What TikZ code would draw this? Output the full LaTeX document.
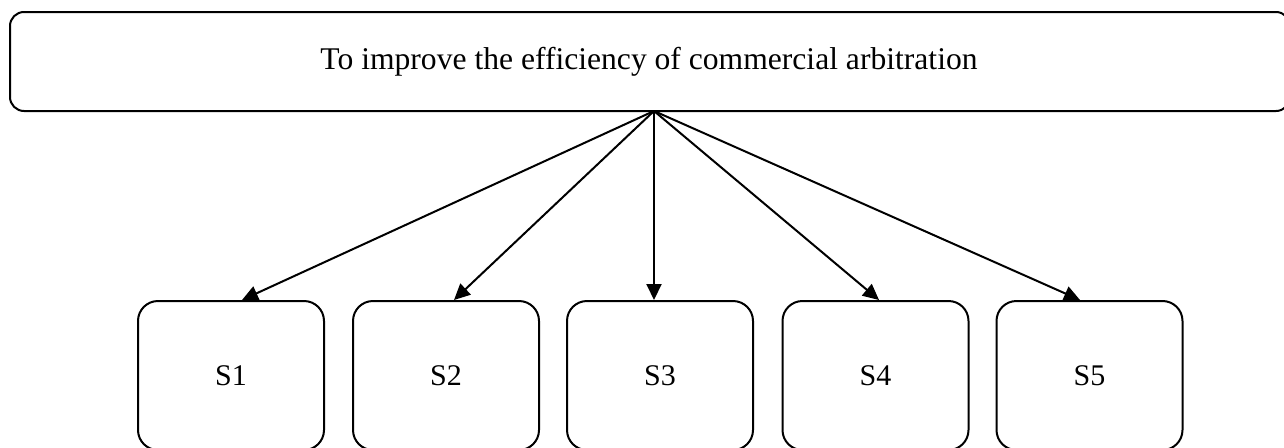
\documentclass[tikz,border=0pt]{standalone}
\usepackage{fontspec}
\setmainfont{Liberation Serif}
\usetikzlibrary{arrows.meta}
\begin{document}
\begin{tikzpicture}[x=1pt,y=-1pt,
  topbox/.style={draw,line width=2pt,rounded corners=14pt,minimum width=1280pt,minimum height=99pt,inner sep=0pt},
  sbox/.style={draw,line width=2pt,rounded corners=20pt,minimum width=186pt,minimum height=149pt,inner sep=0pt},
  arr/.style={line width=2pt,-{Triangle[length=16pt,width=15pt]}},
  lbl/.style={font=\fontsize{30pt}{36pt}\selectfont},
  toplbl/.style={font=\fontsize{31.6pt}{38pt}\selectfont}]
\useasboundingbox (0,0) rectangle (1284,447);
\clip (0,0) rectangle (1284,447);
\node[topbox] (top) at (650,61.5) {};
\node[toplbl] (toptext) at (649,62) {To improve the efficiency of commercial arbitration};
\coordinate (src) at (654,111);
\node[sbox,lbl] (s1) at (231,375.5) {S1};
\node[sbox,lbl] (s2) at (446,375.5) {S2};
\node[sbox,lbl] (s3) at (660,375.5) {S3};
\node[sbox,lbl] (s4) at (875.5,375.5) {S4};
\node[sbox,lbl] (s5) at (1089.5,375.5) {S5};
\draw[arr] (src) -- ([xshift=11pt]s1.north);
\draw[arr] (src) -- ([xshift=8pt]s2.north);
\draw[arr] (src) -- ([xshift=-6pt]s3.north);
\draw[arr] (src) -- ([xshift=3.5pt]s4.north);
\draw[arr] (src) -- ([xshift=-9.5pt]s5.north);
\end{tikzpicture}
\end{document}
